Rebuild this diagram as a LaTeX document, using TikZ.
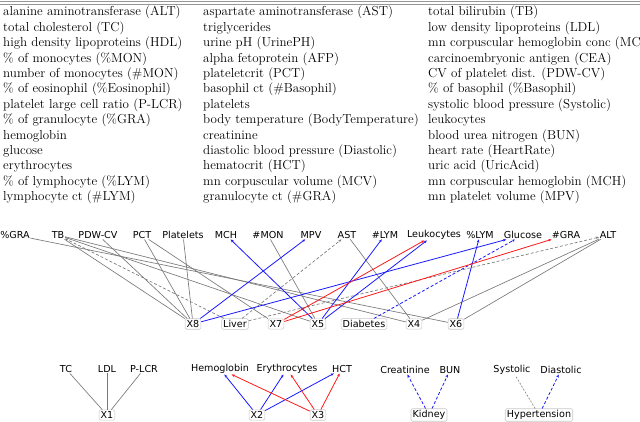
\documentclass[tikz,border=0pt]{standalone}
\usepackage{fontspec}
\newfontfamily\gfont{DejaVu Sans}
\usetikzlibrary{arrows.meta}
\definecolor{egray}{RGB}{120,120,120}
\definecolor{eblue}{RGB}{25,25,255}
\definecolor{ered}{RGB}{255,25,25}
\definecolor{boxgray}{RGB}{200,200,200}
\definecolor{rulegray}{RGB}{150,150,150}
\tikzset{
  tabtext/.style={anchor=base west, inner sep=0pt, font=\fontsize{13}{15}\selectfont},
  obs/.style={inner sep=0.6pt, font=\gfont\fontsize{9.6}{11}\selectfont},
  lat/.style={inner sep=1.6pt, draw=boxgray, fill=white, rounded corners=1.5pt, line width=0.6pt, font=\gfont\fontsize{9.6}{11}\selectfont},
  tip/.style={-{Stealth[length=3.2pt,width=2.6pt]}},
  gline/.style={draw=egray, line width=0.65pt},
  gdash/.style={draw=egray, line width=0.65pt, dash pattern=on 3pt off 2pt, tip},
  bline/.style={draw=eblue, line width=0.8pt, tip},
  bdash/.style={draw=eblue, line width=0.8pt, dash pattern=on 3pt off 2pt, tip},
  rline/.style={draw=ered, line width=0.8pt, tip},
}
\begin{document}
\begin{tikzpicture}[x=1pt,y=-1pt]
\useasboundingbox (0,0) rectangle (640,422);
% top double rule
\draw[rulegray, line width=0.5pt] (0,1.2) coordinate (ra) -- (640,1.2) coordinate (rb);
\draw[rulegray, line width=0.5pt] (0,4.2) coordinate (rc) -- (640,4.2) coordinate (rd);
% table
\foreach \t [count=\i from 0] in {alanine aminotransferase (ALT), total cholesterol (TC), high density lipoproteins (HDL), \% of monocytes (\%MON), number of monocytes (\#MON), \% of eosinophil (\%Eosinophil), platelet large cell ratio (P-LCR), \% of granulocyte (\%GRA), hemoglobin, glucose, erythrocytes, \% of lymphocyte (\%LYM), lymphocyte ct (\#LYM)}
  \node[tabtext] (ca\i) at (3,{16+15.4*\i}) {\t};
\foreach \t [count=\i from 0] in {aspartate aminotransferase (AST), triglycerides, urine pH (UrinePH), alpha fetoprotein (AFP), plateletcrit (PCT), basophil ct (\#Basophil), platelets, body temperature (BodyTemperature), creatinine, diastolic blood pressure (Diastolic), hematocrit (HCT), mn corpuscular volume (MCV), granulocyte ct (\#GRA)}
  \node[tabtext] (cb\i) at (203,{16+15.4*\i}) {\t};
\foreach \t [count=\i from 0] in {total bilirubin (TB), low density lipoproteins (LDL), mn corpuscular hemoglobin conc (MCHC), carcinoembryonic antigen (CEA), CV of platelet dist. (PDW-CV), \% of basophil (\%Basophil), systolic blood pressure (Systolic), leukocytes, blood urea nitrogen (BUN), heart rate (HeartRate), uric acid (UricAcid), mn corpuscular hemoglobin (MCH), mn platelet volume (MPV)}
  \node[tabtext] (cc\i) at (428,{16+15.4*\i}) {\t};

% ---- main graph: observed
\node[obs] (GRAp) at (15,235) {\%GRA};
\node[obs] (TB) at (58,235) {TB};
\node[obs] (PDW) at (98,235) {PDW-CV};
\node[obs] (PCT) at (142,235) {PCT};
\node[obs] (Plt) at (183,235) {Platelets};
\node[obs] (MCH) at (226,235) {MCH};
\node[obs] (MONn) at (268,235) {\#MON};
\node[obs] (MPV) at (311,235) {MPV};
\node[obs] (AST) at (347,235) {AST};
\node[obs] (LYMn) at (385,235) {\#LYM};
\node[obs] (Leu) at (434,235) {Leukocytes};
\node[obs] (LYMp) at (480,235) {\%LYM};
\node[obs] (Glu) at (523,235) {Glucose};
\node[obs] (GRAn) at (566,235) {\#GRA};
\node[obs] (ALT) at (608,235) {ALT};
% latent
\node[lat] (X8) at (193,324) {X8};
\node[lat] (Liver) at (235,324) {Liver};
\node[lat] (X7) at (276,324) {X7};
\node[lat] (X5) at (318,324) {X5};
\node[lat] (Diab) at (364,324) {Diabetes};
\node[lat] (X4) at (414,324) {X4};
\node[lat] (X6) at (456,324) {X6};
% edges
\draw[gline] (X6) -- (GRAp);
\draw[gline] (X8) -- (TB);
\draw[gline] (X5) -- (TB);
\draw[gline] (X4) -- (TB);
\draw[gline] (X8) -- (PDW);
\draw[gline] (X8) -- (PCT);
\draw[gline] (X7) -- (PCT);
\draw[gline] (X8) -- (Plt);
\draw[gline] (X5) -- (MONn);
\draw[gline] (X4) -- (AST);
\draw[gline] (X4) -- (ALT);
\draw[gline] (X6) -- (ALT);
\draw[gdash] (Liver) -- (TB);
\draw[gdash] (Liver) -- (AST);
\draw[gdash] (Liver) -- (ALT);
\draw[bline] (X8) -- (MPV);
\draw[bline] (X8) -- (Glu);
\draw[bline] (X5) -- (MCH);
\draw[bline] (X5) -- (LYMn);
\draw[bline] (X5) -- (Leu);
\draw[bline] (X6) -- (LYMp);
\draw[bdash] (Diab) -- (Glu);
\draw[rline] (X7) -- (Leu);
\draw[rline] (X7) -- (GRAn);

% ---- bottom groups
\node[obs] (TC) at (66,369) {TC};
\node[obs] (LDL) at (107,369) {LDL};
\node[obs] (PLCR) at (144,369) {P-LCR};
\node[lat] (X1) at (107,415) {X1};
\draw[gline] (X1) -- (TC);
\draw[gline] (X1) -- (LDL);
\draw[gline] (X1) -- (PLCR);

\node[obs] (Hem) at (220,369) {Hemoglobin};
\node[obs] (Ery) at (287,369) {Erythrocytes};
\node[obs] (HCT) at (342,369) {HCT};
\node[lat] (X2) at (257,415) {X2};
\node[lat] (X3) at (318,415) {X3};
\draw[bline] (X2) -- (Hem);
\draw[bline] (X2) -- (Ery);
\draw[bline] (X2) -- (HCT);
\draw[rline] (X3) -- (Hem);
\draw[rline] (X3) -- (Ery);
\draw[rline] (X3) -- (HCT);

\node[obs] (Cre) at (405,370) {Creatinine};
\node[obs] (BUN) at (450,370) {BUN};
\node[lat] (Kid) at (429,415) {Kidney};
\draw[bdash] (Kid) -- (Cre);
\draw[bdash] (Kid) -- (BUN);

\node[obs] (Sys) at (512,370) {Systolic};
\node[obs] (Dia) at (561,370) {Diastolic};
\node[lat] (Hyp) at (539,415) {Hypertension};
\draw[draw=egray, line width=0.6pt, dash pattern=on 2pt off 1.5pt] (Hyp) -- (Sys);
\draw[bdash] (Hyp) -- (Dia);
\end{tikzpicture}
\end{document}
